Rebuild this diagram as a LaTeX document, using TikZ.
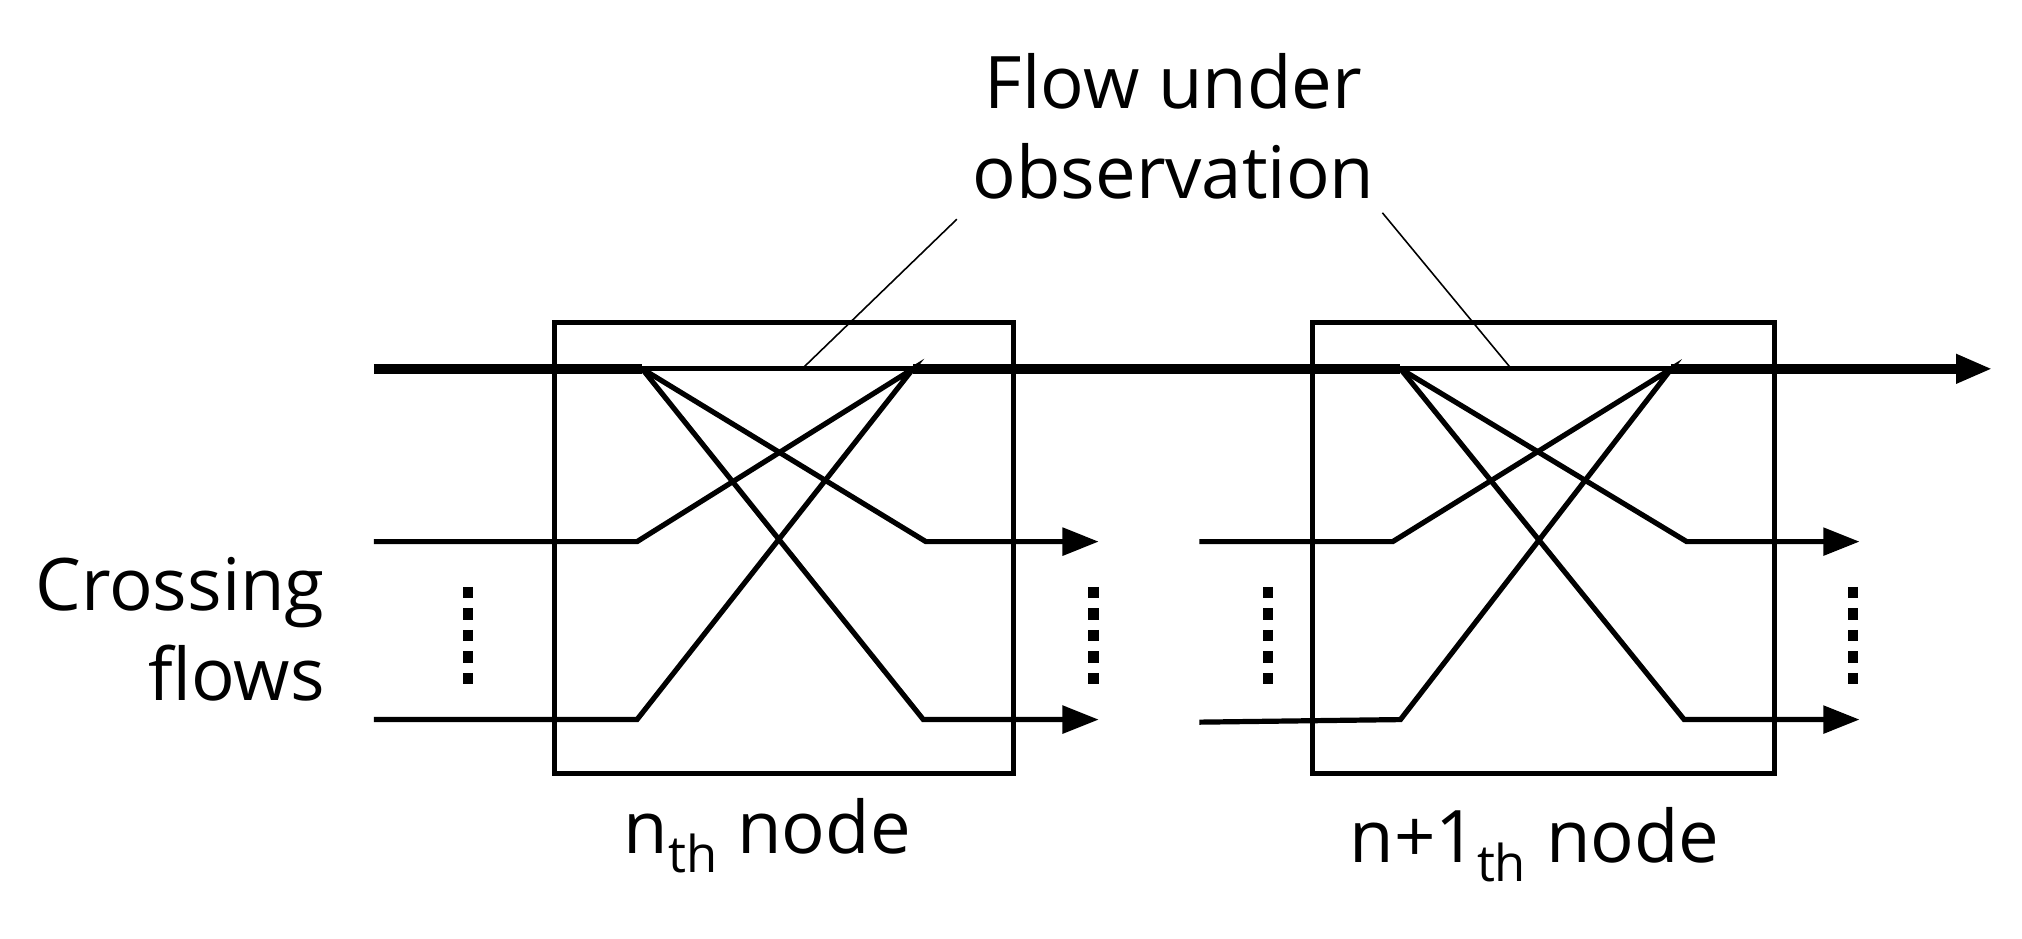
\documentclass[tikz,border=0pt]{standalone}
\usepackage{fontspec}
\setmainfont{Open Sans}
\usetikzlibrary{arrows.meta}
\begin{document}
\begin{tikzpicture}[x=0.02cm,y=-0.02cm,
  bx/.style={draw,line width=2.3pt},
  fl/.style={line width=2.3pt},
  thk/.style={line width=4.6pt},
  arr/.style={-{Triangle[length=16pt,width=12pt]}},
  dots/.style={line width=4.5pt,dash pattern=on 5pt off 4.5pt},
  lead/.style={line width=0.7pt},
  lbl/.style={font=\fontsize{32}{40}\selectfont}]
\useasboundingbox (0,0) rectangle (1568,728);
\draw[bx] (430,250) rectangle (786,600);
\draw[bx] (1018,250) rectangle (1376,600);
% main flow
\coordinate (s) at (290,286);
\coordinate (a1) at (498,286); \coordinate (b1) at (708,286);
\coordinate (a2) at (1086,286); \coordinate (b2) at (1296,286);
\coordinate (e) at (1545,286);
\draw[thk] (s)--(a1); \draw[fl] (a1)--(b1); \draw[thk] (b1)--(a2);
\draw[fl] (a2)--(b2); \draw[thk,arr] (b2)--(e);
% node 1
\coordinate (i11) at (494,420); \coordinate (i12) at (494,558);
\coordinate (o11) at (718,420); \coordinate (o12) at (716,558);
\draw[fl] (290,420)--(i11)--(b1)--(i12)--(290,558);
\draw[fl,arr] (a1)--(o11)--(852,420);
\draw[fl,arr] (a1)--(o12)--(852,558);
% node 2
\coordinate (i21) at (1080,420); \coordinate (i22) at (1086,558);
\coordinate (o21) at (1308,420); \coordinate (o22) at (1306,558);
\draw[fl] (930,420)--(i21)--(b2)--(i22)--(930,560);
\draw[fl,arr] (a2)--(o21)--(1442,420);
\draw[fl,arr] (a2)--(o22)--(1442,558);
% dots
\foreach \x in {363,848,983,1437}{\draw[dots] (\x,455)--(\x,532);}
% labels
\node[lbl,align=center] (t) at (910,98) {Flow under\\observation};
\draw[lead] (742,170)--(622,286);
\draw[lead] (1072,165)--(1172,286);
\node[lbl,align=right,anchor=east] (c) at (258,488) {Crossing\\flows};
\node[lbl] (n1) at (595,648) {n\textsubscript{th} node};
\node[lbl] (n2) at (1190,655) {n+1\textsubscript{th} node};
\end{tikzpicture}
\end{document}
